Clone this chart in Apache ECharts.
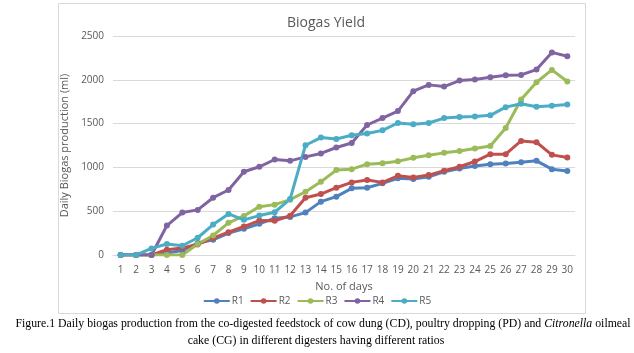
<!DOCTYPE html>
<html>
<head>
<meta charset="utf-8">
<title>Biogas Yield</title>
<script src="https://cdn.jsdelivr.net/npm/echarts@6/dist/echarts.min.js"></script>
<style>
    html, body { margin: 0; padding: 0; background: #fff; }
    #biogas { width: 634px; height: 353px; }
</style>
</head>
<body>
<div id="biogas"></div>
<script>
//日期 1-30
var days = ['1','2','3','4','5','6','7','8','9','10','11','12','13','14','15',
            '16','17','18','19','20','21','22','23','24','25','26','27','28','29','30'];

//各消化器每日产气量 (ml)
var r1 = [0, 0, 0, 23, 52, 136, 174, 250, 299, 356, 420, 435, 484, 609, 666,
          761, 768, 818, 875, 867, 893, 950, 988, 1015, 1037, 1045, 1060, 1075, 980, 958];
var r2 = [0, 0, 0, 60, 80, 120, 193, 261, 325, 393, 390, 448, 654, 696, 768,
          829, 855, 829, 904, 886, 912, 961, 1007, 1067, 1151, 1151, 1302, 1287, 1143, 1113];
var r3 = [0, 0, 0, 0, 0, 125, 223, 367, 446, 552, 575, 632, 722, 836, 969,
          980, 1037, 1048, 1071, 1109, 1139, 1166, 1188, 1216, 1245, 1450, 1776, 1972, 2113, 1980];
var r4 = [0, 0, 0, 336, 484, 515, 654, 742, 950, 1007, 1090, 1075, 1120, 1159, 1227,
          1279, 1484, 1563, 1643, 1870, 1942, 1923, 1991, 2003, 2029, 2052, 2056, 2117, 2313, 2268];
var r5 = [0, 0, 75, 125, 106, 197, 348, 469, 401, 450, 488, 638, 1253, 1340, 1325,
          1367, 1386, 1423, 1507, 1492, 1507, 1563, 1575, 1580, 1594, 1688, 1727, 1693, 1704, 1719];

var names = ['R1', 'R2', 'R3', 'R4', 'R5'];
var colors = ['#4F81BD', '#C0504D', '#9BBB59', '#8064A2', '#4BACC6'];
var yTicks = { min: 0, max: 2500, interval: 500 };

var textGray = '#595959';
var uiFont = '"Open Sans", "Liberation Sans", sans-serif';
var capFont = '"Liberation Serif", serif';

(function () {

    var chart = echarts.init(document.getElementById('biogas'));

    function lineSeries(name, data, color) {
        return {
            name: name,
            type: 'line',
            data: data,
            symbol: 'circle',
            symbolSize: 6,
            itemStyle: { color: color },
            lineStyle: { color: color, width: 3 },
            emphasis: { disabled: true }
        };
    }

    var option = {
        animation: false,
        textStyle: { fontFamily: uiFont },
        title: {
            text: 'Biogas Yield',
            left: 321,
            textAlign: 'center',
            top: 11,
            textStyle: { color: textGray, fontSize: 14, fontWeight: 'normal', fontFamily: uiFont }
        },
        legend: {
            data: names,
            top: 291,
            left: 'center',
            itemWidth: 26,
            itemHeight: 7,
            itemGap: 6,
            textStyle: { color: textGray, fontSize: 10, padding: [0, 0, 0, -3] }
        },
        grid: {
            left: 113,
            right: 59,
            top: 36,
            bottom: 98,
            containLabel: false
        },
        xAxis: {
            type: 'category',
            boundaryGap: true,
            data: days,
            name: 'No. of days',
            nameLocation: 'middle',
            nameGap: 26,
            nameTextStyle: { color: textGray, fontSize: 11 },
            axisLine: { lineStyle: { color: '#d9d9d9' } },
            axisTick: { show: false },
            axisLabel: { color: textGray, fontSize: 10, margin: 10, interval: 0 }
        },
        yAxis: {
            type: 'value',
            min: yTicks.min,
            max: yTicks.max,
            interval: yTicks.interval,
            name: 'Daily Biogas production (ml)',
            nameLocation: 'middle',
            nameGap: 41,
            nameTextStyle: { color: textGray, fontSize: 11 },
            axisLine: { show: false },
            axisTick: { show: false },
            axisLabel: {
                color: textGray,
                fontSize: 10,
                margin: 9,
                formatter: function (v) { return String(v); }
            },
            splitLine: { lineStyle: { color: '#d9d9d9' } }
        },
        graphic: [
            {
                type: 'rect',
                shape: { x: 58.5, y: 3.5, width: 527, height: 310 },
                style: { fill: 'none', stroke: '#d9d9d9', lineWidth: 1 },
                silent: true
            },
            {
                type: 'text',
                x: 323,
                y: 324,
                style: {
                    text: 'Figure.1 Daily biogas production from the co-digested feedstock of cow dung (CD), poultry dropping (PD) and {i|Citronella} oilmeal',
                    align: 'center',
                    verticalAlign: 'middle',
                    fill: '#000',
                    font: '11.8px ' + capFont,
                    rich: {
                        i: { fontStyle: 'italic', fontFamily: capFont, fontSize: 11.8, fill: '#000' }
                    }
                }
            },
            {
                type: 'text',
                x: 316,
                y: 341,
                style: {
                    text: 'cake (CG) in different digesters having different ratios',
                    align: 'center',
                    verticalAlign: 'middle',
                    fill: '#000',
                    font: '11.8px ' + capFont
                }
            }
        ],
        series: [
            lineSeries(names[0], r1, colors[0]),
            lineSeries(names[1], r2, colors[1]),
            lineSeries(names[2], r3, colors[2]),
            lineSeries(names[3], r4, colors[3]),
            lineSeries(names[4], r5, colors[4])
        ]
    };

    chart.setOption(option);
})();
</script>
</body>
</html>
